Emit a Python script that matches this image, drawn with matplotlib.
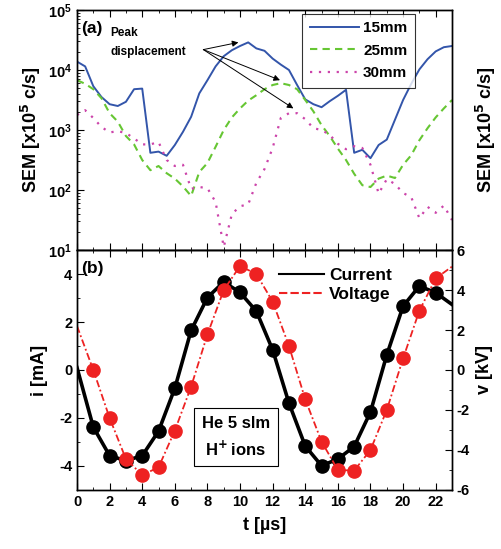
import numpy as np
import matplotlib
matplotlib.use("Agg")
import matplotlib.pyplot as plt
from matplotlib.ticker import MultipleLocator, LogLocator, NullFormatter
from matplotlib.lines import Line2D

plt.rcParams['font.family'] = ['Liberation Sans', 'DejaVu Sans']
plt.rcParams['font.weight'] = 'bold'
plt.rcParams['axes.labelweight'] = 'bold'
plt.rcParams['mathtext.default'] = 'bf'
plt.rcParams['axes.unicode_minus'] = False

# panel (a): SEM counts, log10 values every 0.5 us
t_sem = np.arange(0, 23.01, 0.5)
log_15mm = [4.14, 4.06, 3.73, 3.55, 3.43, 3.40, 3.47, 3.68, 3.69, 2.62,
            2.64, 2.57, 2.75, 2.97, 3.22, 3.61, 3.83, 4.06, 4.23, 4.33,
            4.40, 4.46, 4.36, 4.32, 4.19, 4.09, 4.00, 3.75, 3.51, 3.43,
            3.38, 3.48, 3.57, 3.67, 2.62, 2.67, 2.53, 2.75, 2.84, 3.17,
            3.50, 3.77, 4.01, 4.18, 4.31, 4.38, 4.40]
log_25mm = [3.83, 3.77, 3.68, 3.53, 3.28, 3.14, 2.90, 2.76, 2.50, 2.33,
            2.40, 2.28, 2.19, 2.06, 1.90, 2.30, 2.45, 2.72, 3.00, 3.21,
            3.36, 3.49, 3.58, 3.68, 3.75, 3.78, 3.75, 3.68, 3.50, 3.31,
            3.08, 2.90, 2.69, 2.50, 2.27, 2.08, 2.05, 2.19, 2.24, 2.20,
            2.42, 2.58, 2.83, 3.03, 3.21, 3.36, 3.50]
log_30mm = [3.25, 3.33, 3.20, 3.05, 2.96, 2.98, 2.95, 2.86, 2.76, 2.76,
            2.80, 2.50, 2.40, 2.42, 2.02, 2.05, 2.03, 1.80, 1.05, 1.60,
            1.73, 1.76, 2.12, 2.35, 2.70, 3.20, 3.28, 3.28, 3.18, 3.03,
            3.00, 2.92, 2.77, 2.68, 2.73, 2.70, 2.42, 1.94, 2.18, 2.10,
            1.95, 1.88, 1.53, 1.72, 1.62, 1.74, 1.50]

# panel (b): current and voltage every 1 us
t_iv = np.arange(0, 24)
current = [0.1, -2.38, -3.57, -3.78, -3.57, -2.55, -0.76, 1.65, 3.02, 3.67,
           3.23, 2.45, 0.84, -1.38, -3.17, -3.99, -3.71, -3.19, -1.75, 0.63,
           2.66, 3.50, 3.22, 2.73]
voltage = [2.2, 0.0, -2.4, -4.45, -5.25, -4.87, -3.03, -0.83, 1.78, 4.0,
           5.2, 4.8, 3.42, 1.2, -1.47, -3.58, -5.0, -5.03, -4.0, -2.0,
           0.58, 2.97, 4.58, 5.17]

fig = plt.figure(figsize=(5.01, 5.49), dpi=100)
ax_a = fig.add_axes([0.1537, 0.5446, 0.7485, 0.4372])
ax_b = fig.add_axes([0.1537, 0.1075, 0.7485, 0.4371])

ax_a.plot(t_sem, 10 ** np.array(log_15mm), color='#3355aa', lw=1.4, label='15mm')
ax_a.plot(t_sem, 10 ** np.array(log_25mm), color='#66c633', lw=1.5,
          linestyle=(0, (3.5, 2.5)), label='25mm')
ax_a.plot(t_sem, 10 ** np.array(log_30mm), color='#cc44aa', lw=1.6,
          linestyle=(0, (1, 3)), label='30mm')
ax_a.set_yscale('log')
ax_a.set_ylim(10, 1e5)
ax_a.set_xlim(0, 23)
ax_a.set_ylabel('SEM [x10$^5$ c/s]', fontsize=13, labelpad=4)
ax_a.xaxis.set_major_locator(MultipleLocator(2))
ax_a.xaxis.set_minor_locator(MultipleLocator(1))
ax_a.yaxis.set_minor_locator(LogLocator(base=10, subs=np.arange(2, 10), numticks=10))
ax_a.yaxis.set_minor_formatter(NullFormatter())
ax_a.tick_params(which='both', direction='in', top=True, right=True, labelbottom=False)
ax_a.tick_params(which='major', length=5, labelsize=10.5)
ax_a.tick_params(which='minor', length=2.5)
ax_a.text(0.012, 0.955, '(a)', transform=ax_a.transAxes, fontsize=12.5,
          va='top', ha='left')
leg_a = ax_a.legend(loc='upper left', bbox_to_anchor=(0.6, 0.985), fontsize=11,
                    handlelength=3.2, frameon=True, fancybox=False, borderpad=0.5,
                    labelspacing=0.55, handletextpad=0.3, borderaxespad=0)
leg_a.get_frame().set_edgecolor('black')
leg_a.get_frame().set_linewidth(0.8)

ax_a.text(2.05, 10 ** 4.62, 'Peak', fontsize=8.5, va='center', ha='left')
ax_a.text(2.05, 10 ** 4.30, 'displacement', fontsize=8.5, va='center', ha='left')
for tx, ty in [(9.9, 4.46), (12.45, 3.83), (13.27, 3.36)]:
    ax_a.annotate('', xy=(tx, 10 ** ty), xytext=(7.75, 10 ** 4.34),
                  arrowprops=dict(arrowstyle='-|>', color='black', lw=0.7,
                                  mutation_scale=9, shrinkA=0, shrinkB=0))

ax_a2 = ax_a.twinx()
ax_a2.set_yscale('log')
ax_a2.set_ylim(10, 1e5)
ax_a2.tick_params(which='both', right=False, labelright=False)
ax_a2.set_ylabel('SEM [x10$^5$ c/s]', fontsize=13, labelpad=16)

ax_b.plot(t_iv, current, color='black', lw=2.6, marker='o', markersize=9.5,
          markevery=list(range(1, 23)))
ax_b.set_xlim(0, 23)
ax_b.set_ylim(-5, 5)
ax_b.set_ylabel('i [mA]', fontsize=13, labelpad=8)
ax_b.set_xlabel('t [\u00b5s]', fontsize=13, labelpad=6)
ax_b.xaxis.set_major_locator(MultipleLocator(2))
ax_b.xaxis.set_minor_locator(MultipleLocator(1))
ax_b.yaxis.set_major_locator(MultipleLocator(2))
ax_b.yaxis.set_minor_locator(MultipleLocator(1))
ax_b.tick_params(which='both', direction='in', top=True, right=False)
ax_b.tick_params(which='major', length=5, labelsize=10.5)
ax_b.tick_params(which='minor', length=2.5)
ax_b.text(0.012, 0.955, '(b)', transform=ax_b.transAxes, fontsize=12.5,
          va='top', ha='left')

ax_b2 = ax_b.twinx()
ax_b2.plot(t_iv, voltage, color='#ee2222', lw=1.3, linestyle=(0, (4, 1.5, 1, 1.5)),
           marker='o', markersize=9.5, markevery=list(range(1, 23)))
ax_b2.set_ylim(-6, 6)
ax_b2.set_ylabel('v [kV]', fontsize=13, labelpad=4)
ax_b2.yaxis.set_major_locator(MultipleLocator(2))
ax_b2.yaxis.set_minor_locator(MultipleLocator(1))
ax_b2.tick_params(which='both', direction='in')
ax_b2.tick_params(which='major', length=5, labelsize=10.5)
ax_b2.tick_params(which='minor', length=2.5)

handles = [Line2D([], [], color='black', lw=1.5),
           Line2D([], [], color='#ee2222', lw=1.5, linestyle=(0, (4, 1.5)))]
ax_b2.legend(handles, ['Current', 'Voltage'], loc='upper left',
             bbox_to_anchor=(0.52, 0.955), fontsize=12.5, frameon=False,
             handlelength=2.6, handletextpad=0.3, labelspacing=0.25, borderaxespad=0)

ax_b.text(9.75, -2.8, 'He 5 slm\nH$^{+}$\u2009ions', fontsize=12, ha='center', va='center',
          linespacing=1.5, bbox=dict(boxstyle='square,pad=0.45', fc='white',
                                     ec='black', lw=0.8))

for ax in (ax_a, ax_b, ax_a2, ax_b2):
    for s in ax.spines.values():
        s.set_linewidth(1.0)

fig.savefig('out.png', dpi=100)
